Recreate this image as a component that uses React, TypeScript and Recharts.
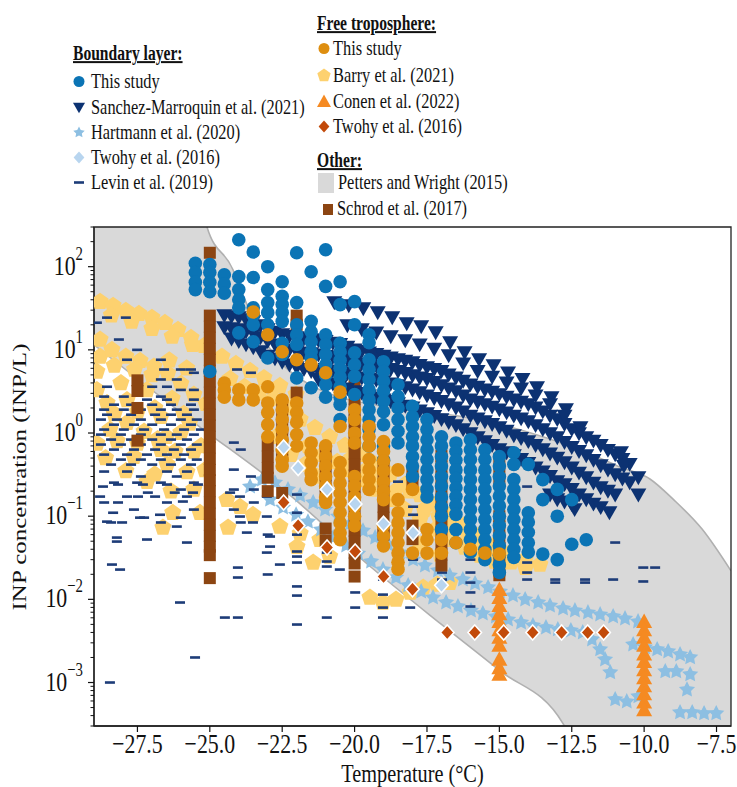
import { Area, ComposedChart, ReferenceArea, Scatter, XAxis, YAxis } from 'recharts'

const W = 737
const H = 787
const FONT = '"Liberation Serif", "Times New Roman", Times, serif'
// the original figure is squeezed horizontally, so text is drawn narrower than its height
const SQUEEZE = 0.78

const TEMP_DOMAIN = [-29, -7]
const CONC_DOMAIN = [0.0003, 300]
const TEMP_TICKS = [-27.5, -25, -22.5, -20, -17.5, -15, -12.5, -10, -7.5]
const CONC_TICKS = [0.001, 0.01, 0.1, 1, 10, 100]
const MINOR_STEPS = [2, 3, 4, 5, 6, 7, 8, 9]
const CONC_MINOR = [0.0001, ...CONC_TICKS]
  .flatMap((d) => MINOR_STEPS.map((m) => m * d))
  .filter((v) => v >= 0.0003 && v <= 300)

const BL_LABELS = ['This study', 'Sanchez-Marroquin et al. (2021)', 'Hartmann et al. (2020)', 'Twohy et al. (2016)', 'Levin et al. (2019)']
const FT_LABELS = ['This study', 'Barry et al. (2021)', 'Conen et al. (2022)', 'Twohy et al. (2016)']
const OTHER_LABELS = ['Petters and Wright (2015)', 'Schrod et al. (2017)']

// Petters and Wright (2015) envelope, [temperature, INP/L]
const PW_UPPER = [
  [-29, 3000], [-25.6, 3000], [-25.1, 302], [-24.2, 92], [-23.96, 56], [-23.16, 14], [-21.54, 3.8],
  [-18.77, 2.02], [-16.25, 1.57], [-13.94, 1.01], [-11.63, 0.52], [-10.83, 0.39], [-9.8, 0.28],
  [-9.0, 0.16], [-8.0, 0.07], [-7.0, 0.022],
]
const PW_LOWER = [
  [-29, 11.5], [-25.5, 1.3], [-22.47, 0.21], [-19.47, 0.025], [-17, 0.005], [-15, 0.0014],
  [-12.8, 0.00032], [-12.3, 0.00015],
]

// boundary layer, this study
const BL_THIS_STUDY = [
  { t: -25.5, v: [110, 85, 65, 53] },
  { t: -25, v: [106, 85, 65, 50, 5.5] },
  { t: -24.5, v: [80, 62, 48] },
  { t: -24, v: [211, 76, 53, 40, 32, 16] },
  { t: -23.5, v: [150, 74, 32, 26, 20, 12.5] },
  { t: -23, v: [100, 53, 37, 28, 20, 8] },
  { t: -22.5, v: [66, 44, 35, 28, 22, 12, 8.8] },
  { t: -22, v: [147, 37, 20, 15.2, 11.6, 4.6] },
  { t: -21.5, v: [87, 22, 16.5, 12.5, 9.5, 8, 3.5] },
  { t: -21, v: [160, 58, 15.2, 11.6, 8.8, 6.6, 5, 3.8, 2.7] },
  { t: -20.5, v: [66, 35, 12, 9.5, 7.5, 6, 4.7, 3.6, 2.7, 2.2, 1.45] },
  { t: -20, v: [38, 20, 9.2, 6.6, 4.8, 2.9] },
  { t: -19.5, v: [15.2, 12.2, 7.6, 5.8, 4.4, 3.3, 2.5, 1.9, 1.45, 1.1, 0.7] },
  { t: -19, v: [7.2, 5.5, 4.2, 3.2, 2.4, 1.8, 1.26, 0.7, 0.47] },
  { t: -18.5, v: [3.8, 2.75, 2, 1.45, 1.05, 0.76] },
  { t: -18, v: [2.1, 1.56, 1.2, 0.9, 0.7, 0.52, 0.4, 0.3] },
  { t: -17.5, v: [1.45, 1.1, 0.83, 0.63, 0.48, 0.36, 0.275, 0.21, 0.17] },
  { t: -17, v: [0.9, 0.7, 0.52, 0.4, 0.3, 0.23, 0.17, 0.13, 0.1, 0.069] },
  { t: -16.5, v: [0.76, 0.6, 0.47, 0.36, 0.283, 0.22, 0.172, 0.135, 0.105, 0.069, 0.048] },
  { t: -16, v: [0.83, 0.63, 0.48, 0.36, 0.275, 0.21, 0.158, 0.12, 0.091, 0.069, 0.052, 0.037] },
  { t: -15.5, v: [0.63, 0.48, 0.36, 0.275, 0.21, 0.158, 0.12, 0.091, 0.069, 0.052, 0.04, 0.03] },
  { t: -15, v: [0.52, 0.4, 0.3, 0.23, 0.175, 0.133, 0.1, 0.077, 0.058, 0.044, 0.034, 0.026, 0.021] },
  { t: -14.5, v: [0.58, 0.42, 0.275, 0.21, 0.158, 0.12, 0.091, 0.069, 0.052, 0.04, 0.032] },
  { t: -14, v: [0.42, 0.11, 0.085, 0.064, 0.048, 0.037] },
  { t: -13.5, v: [0.275, 0.158, 0.035] },
  { t: -13, v: [0.21, 0.1, 0.03] },
  { t: -12.5, v: [0.158, 0.046] },
  { t: -12, v: [0.052] },
]

// free troposphere, this study
const FT_THIS_STUDY = [
  { t: -24.5, v: [4.0, 3.3, 2.7] },
  { t: -24, v: [3.3, 2.5] },
  { t: -23.5, v: [28.5, 3.3, 2.5] },
  { t: -23, v: [15.2, 3.6, 2.3, 1.76, 1.26, 0.9] },
  { t: -22.5, v: [9.5, 2.5, 1.9, 1.45, 1.1, 0.83, 0.63, 0.48, 0.4] },
  { t: -22, v: [7.6, 2.3, 1.76, 1.35, 0.96, 0.7] },
  { t: -21.5, v: [6.6, 0.76, 0.58, 0.44, 0.33, 0.275] },
  { t: -21, v: [5.3, 0.7, 0.52, 0.4, 0.3, 0.23, 0.17, 0.146] },
  { t: -20.5, v: [3.1, 1.2, 0.44, 0.33, 0.25, 0.19, 0.146, 0.11, 0.083, 0.063, 0.052] },
  { t: -20, v: [1.9, 1.45, 1.0, 0.76, 0.3, 0.23, 0.17, 0.13, 0.1, 0.077] },
  { t: -19.5, v: [1.2, 0.9, 0.7, 0.48, 0.36, 0.275, 0.21] },
  { t: -19, v: [0.79, 0.6, 0.46, 0.35, 0.26, 0.2, 0.158, 0.077, 0.058, 0.044] },
  { t: -18.5, v: [0.36, 0.158, 0.11, 0.083, 0.063, 0.048, 0.036, 0.028, 0.023] },
  { t: -18, v: [0.21, 0.036] },
  { t: -17.5, v: [0.069, 0.052, 0.036] },
  { t: -17, v: [0.052, 0.036] },
  { t: -16.5, v: [0.048] },
  { t: -16, v: [0.04] },
  { t: -15.5, v: [0.036] },
  { t: -15, v: [0.035] },
]

// Schrod et al. (2017)
const SCHROD = [
  { t: -27.5, v: [4.3, 3.2, 2.0, 0.81] },
  { t: -25, v: [147, 25.8, 19, 14, 10.3, 7.6, 5.6, 4.15, 3.06, 2.25, 1.66, 1.23, 0.9, 0.67, 0.49, 0.36, 0.27, 0.2, 0.146, 0.107, 0.079, 0.058, 0.043, 0.034, 0.018] },
  { t: -23, v: [0.71, 0.52, 0.38, 0.29, 0.2] },
  { t: -22.5, v: [2.13, 1.57, 1.16, 0.86, 0.63, 0.47, 0.19] },
  { t: -22, v: [25.8, 20, 3.06] },
  { t: -21, v: [0.58, 0.43, 0.316, 0.233, 0.172, 0.071, 0.051] },
  { t: -20, v: [6.45, 4.77, 3.52, 2.59, 1.91, 1.41, 1.04, 0.77, 0.565, 0.417, 0.308, 0.227, 0.167, 0.123, 0.091, 0.067, 0.0495, 0.0365, 0.027, 0.0188] },
  { t: -19, v: [0.44, 0.325, 0.24, 0.177, 0.13, 0.096, 0.071, 0.06] },
  { t: -18, v: [0.316, 0.24, 0.077, 0.053] },
  { t: -17, v: [0.535, 0.395, 0.29, 0.215, 0.158, 0.117, 0.086, 0.0635, 0.047, 0.0345, 0.0255] },
  { t: -15, v: [0.49, 0.36, 0.27, 0.1, 0.075, 0.055, 0.0415, 0.0305, 0.0222, 0.0195] },
]

// Sanchez-Marroquin et al. (2021)
const SM_BAND = [
  { t: -24.5, v: [25.8, 18.5] },
  { t: -24.25, v: [25, 18, 13.5] },
  { t: -24, v: [24.4, 17.5, 12.6] },
  { t: -23.75, v: [23, 16.5, 11.5] },
  { t: -23.5, v: [21.8, 15.7, 10.6] },
  { t: -23.25, v: [19.5, 14, 9.5] },
  { t: -23, v: [17.5, 12.6, 8.4] },
  { t: -22.75, v: [16.3, 11.5, 7.8] },
  { t: -22.5, v: [15.2, 10.6, 7.1] },
  { t: -22.25, v: [14.6, 10, 6.6] },
  { t: -22, v: [14, 9.5, 6.1] },
  { t: -21.75, v: [13.6, 9.2, 5.8] },
  { t: -21.5, v: [13.3, 9, 5.5] },
  { t: -21.25, v: [13, 8.7, 5.6, 4.4] },
  { t: -21, v: [12.6, 8.4, 5.8, 4.15] },
  { t: -20.75, v: [12, 8.2, 5.6, 3.9] },
  { t: -20.5, v: [11.6, 8.1, 5.5, 3.7] },
  { t: -20.25, v: [10.8, 7.6, 5.2, 3.4] },
  { t: -20, v: [10, 7.1, 4.9, 3.15] },
  { t: -19.75, v: [9.6, 6.8, 4.6, 3] },
  { t: -19.5, v: [9.2, 6.5, 4.4, 2.8] },
  { t: -19.25, v: [8.8, 6.3, 4.3, 2.65] },
  { t: -19, v: [8.4, 6.1, 4.15, 2.5] },
  { t: -18.75, v: [8, 5.8, 3.9, 2.4] },
  { t: -18.5, v: [7.6, 5.5, 3.7, 2.25] },
  { t: -18.25, v: [7.3, 5.2, 3.5, 2.1] },
  { t: -18, v: [7, 4.9, 3.3, 2] },
  { t: -17.75, v: [6.5, 4.6, 3.05, 1.85] },
  { t: -17.5, v: [6.1, 4.4, 2.8, 1.71] },
  { t: -17.25, v: [5.8, 4.05, 2.6, 1.58] },
  { t: -17, v: [5.5, 3.7, 2.4, 1.45] },
  { t: -16.75, v: [5, 3.4, 2.2, 1.34] },
  { t: -16.5, v: [4.6, 3.15, 2, 1.23] },
  { t: -16.25, v: [4.2, 2.8, 1.8, 1.1] },
  { t: -16, v: [3.8, 2.5, 1.6, 0.98] },
  { t: -15.75, v: [3.55, 2.35, 1.48, 0.88] },
  { t: -15.5, v: [3.3, 2.2, 1.37, 0.79] },
  { t: -15.25, v: [3.1, 2.05, 1.27, 0.71] },
  { t: -15, v: [2.9, 1.9, 1.16, 0.63] },
  { t: -14.75, v: [2.7, 1.75, 1.05, 0.58] },
  { t: -14.5, v: [2.5, 1.6, 0.93, 0.535] },
  { t: -14.25, v: [2.35, 1.48, 0.86, 0.48] },
  { t: -14, v: [2.2, 1.37, 0.79, 0.43] },
  { t: -13.75, v: [2, 1.23, 0.71, 0.38] },
  { t: -13.5, v: [1.8, 1.1, 0.63, 0.34] },
  { t: -13.25, v: [1.6, 0.98, 0.56, 0.3, 0.18] },
  { t: -13, v: [1.45, 0.88, 0.5, 0.26, 0.158] },
  { t: -12.75, v: [1.27, 0.77, 0.44, 0.24, 0.148] },
  { t: -12.5, v: [1.1, 0.67, 0.38, 0.21, 0.138] },
  { t: -12.25, v: [0.98, 0.6, 0.33, 0.18] },
  { t: -12, v: [0.88, 0.535, 0.29, 0.158] },
  { t: -11.75, v: [0.8, 0.47, 0.25, 0.14] },
  { t: -11.5, v: [0.71, 0.405, 0.22, 0.127] },
  { t: -11.25, v: [0.62, 0.36, 0.2] },
  { t: -11, v: [0.55, 0.316, 0.18] },
  { t: -10.75, v: [0.48, 0.28] },
  { t: -10.5, v: [0.42, 0.253] },
  { t: -10.2, v: [0.29, 0.18] },
]
const SM_STREAKS = [
  [-20.7, 36.9], [-20.2, 34], [-19.7, 31.3], [-19.2, 28], [-18.7, 24.4], [-18.2, 20.6], [-17.7, 19],
  [-17.2, 16.1], [-16.7, 12.2], [-16.2, 9.25], [-15.7, 7.6], [-15.2, 6.45], [-14.7, 5.3], [-14.2, 4.4],
  [-13.7, 3.5], [-13.2, 2.66], [-12.7, 1.91], [-12.2, 1.16],
  [-20.25, 19.5], [-19.75, 17.5], [-19.25, 16], [-18.75, 14.4], [-18.25, 12.9], [-17.75, 11.5],
  [-17.25, 10.2], [-16.75, 8.5], [-16.25, 6.8], [-15.75, 5.5], [-15.25, 4.7], [-14.75, 4.0],
  [-14.25, 3.4], [-13.75, 2.8], [-13.25, 2.2], [-12.75, 1.6],
  [-12.4, 0.12], [-11.2, 0.11], [-10.8, 0.58], [-10.7, 0.4],
]

// Hartmann et al. (2020)
const HARTMANN = [
  [-23.61, 0.227], [-23.2, 0.275], [-22.75, 0.253], [-22.3, 0.209], [-21.88, 0.177], [-21.43, 0.146],
  [-21.02, 0.12], [-20.57, 0.099], [-20.16, 0.0815], [-19.71, 0.067], [-19.29, 0.0553], [-18.84, 0.0456],
  [-18.43, 0.0365], [-17.98, 0.03], [-17.57, 0.0255], [-17.12, 0.0222], [-16.71, 0.0193], [-16.26, 0.0173],
  [-15.84, 0.0155], [-15.39, 0.0139], [-14.98, 0.0124], [-14.53, 0.0111], [-14.11, 0.00995], [-13.66, 0.00916],
  [-13.25, 0.0084], [-12.8, 0.00775], [-12.39, 0.00733], [-11.94, 0.00693], [-11.52, 0.00656], [-11.07, 0.00621],
  [-10.66, 0.00587], [-10.21, 0.0054],
  [-22.92, 0.158], [-22.47, 0.127], [-22.02, 0.104], [-21.61, 0.086], [-21.16, 0.069], [-20.74, 0.0553],
  [-20.29, 0.0443], [-19.88, 0.0355], [-19.43, 0.0285], [-19.02, 0.0228], [-18.57, 0.0183], [-18.15, 0.0147],
  [-17.7, 0.0124], [-17.29, 0.0105], [-16.84, 0.00916], [-16.43, 0.0082], [-15.98, 0.00733], [-15.57, 0.00675],
  [-15.12, 0.0062], [-14.7, 0.00571], [-14.25, 0.00526], [-13.84, 0.00484], [-13.39, 0.00458], [-12.98, 0.00434],
  [-12.53, 0.00422], [-12.12, 0.00399],
  [-11.8, 0.00329], [-11.52, 0.0025], [-11.35, 0.00189], [-11.17, 0.00132],
  [-10.38, 0.00286], [-9.97, 0.00264], [-9.55, 0.0025], [-9.17, 0.00236], [-8.76, 0.00217], [-8.41, 0.002],
  [-11.0, 0.000625], [-10.6, 0.00059], [-10.2, 0.00068], [-9.27, 0.00136], [-8.89, 0.00136], [-8.41, 0.00125],
  [-8.52, 0.00082], [-8.76, 0.000437], [-8.34, 0.000437], [-7.93, 0.000425], [-7.51, 0.000425],
]

// Twohy et al. (2016)
const TWOHY_BL = [[-22.45, 0.67], [-21.95, 0.38], [-20.95, 0.21], [-19.98, 0.14], [-19.0, 0.081], [-17.98, 0.063], [-17.0, 0.0148]]
const TWOHY_FT = [
  [-22.45, 0.146], [-21.95, 0.077], [-20.95, 0.042], [-19.98, 0.0376], [-19.0, 0.0188], [-18.0, 0.0132],
  [-16.8, 0.004], [-15.85, 0.004], [-14.85, 0.004], [-13.85, 0.004], [-12.85, 0.004], [-11.95, 0.004], [-11.4, 0.004],
]

// Conen et al. (2022)
const CONEN = [
  { t: -15, v: [0.0131, 0.0105, 0.0084, 0.0067, 0.0054, 0.0043, 0.0035, 0.0028, 0.0019, 0.0015, 0.00125] },
  { t: -10, v: [0.0054, 0.0043, 0.0035, 0.0028, 0.0022, 0.00178, 0.00142, 0.00114, 0.00091, 0.00073, 0.00058, 0.00047] },
]

// Barry et al. (2021)
const BARRY = [
  [-28.79, 38], [-28.34, 34], [-27.9, 29.6], [-27.45, 27.2], [-27.0, 24.4], [-26.55, 21.2], [-26.1, 17.5],
  [-25.65, 14.0], [-25.2, 11.2], [-24.58, 8.3], [-24.1, 6.8], [-23.61, 5.6], [-23.13, 4.6], [-22.58, 3.7], [-22.02, 2.9],
  [-28.4, 26], [-27.7, 22], [-27.0, 18], [-26.3, 14.5], [-25.6, 11.5],
  [-28.79, 13.3], [-28.79, 8.3], [-28.38, 10], [-27.9, 8.3], [-27.41, 7.4], [-26.93, 6.3], [-26.45, 5.2],
  [-26.0, 3.9], [-25.55, 2.9], [-25.13, 2.25],
  [-24.3, 4.5], [-23.8, 3.6], [-23.3, 3.0], [-22.8, 2.6], [-22.3, 2.0],
  [-28.07, 4.0], [-28.55, 2.3], [-27.86, 2.5], [-27.17, 3.3], [-26.69, 1.57], [-27.86, 1.33], [-27.27, 1.04],
  [-27.62, 0.52], [-26.69, 0.63], [-26.0, 1.01], [-25.55, 0.6], [-26.48, 0.42], [-25.79, 0.34], [-27.17, 0.26],
  [-26.34, 0.2], [-25.55, 0.21], [-28.45, 1.1], [-25.17, 0.36],
  [-28.2, 0.8], [-27.5, 0.75], [-26.8, 0.85], [-26.2, 0.6], [-25.9, 1.7], [-28.6, 0.5], [-27.9, 0.35],
  [-26.9, 0.32], [-25.3, 0.7],
  [-28.9, 5.5], [-28.3, 6.5], [-27.6, 5.8], [-27.0, 5.0], [-26.4, 7.5], [-25.8, 6.0], [-28.9, 3.3],
  [-28.3, 1.7], [-27.5, 1.8], [-26.9, 2.0], [-26.3, 2.6], [-25.7, 1.3], [-28.9, 0.75], [-26.5, 0.9],
  [-26.28, 0.11], [-26.62, 0.073], [-25.34, 0.11], [-24.41, 0.158], [-23.96, 0.13], [-23.51, 0.104],
  [-24.37, 0.073], [-22.58, 0.075], [-21.99, 0.043], [-21.43, 0.0277], [-20.86, 0.0327], [-21.88, 0.062], [-21.2, 0.052],
  [-22.7, 0.9], [-22.2, 0.55], [-21.7, 0.42], [-21.3, 0.3],
  [-21.88, 1.45], [-21.37, 1.16], [-20.86, 0.9], [-20.33, 0.71], [-19.81, 0.55], [-19.29, 0.42], [-18.77, 0.316],
  [-18.26, 0.24], [-17.74, 0.18], [-17.22, 0.138], [-16.71, 0.104], [-16.19, 0.079], [-15.67, 0.06],
  [-15.15, 0.0456], [-14.63, 0.0365], [-14.11, 0.03], [-13.6, 0.0262],
  [-21.6, 0.7], [-21.1, 0.55], [-20.6, 0.45], [-20.1, 0.5], [-19.6, 0.36], [-19.1, 0.3], [-18.6, 0.2],
  [-18.1, 0.2], [-17.6, 0.12], [-17.1, 0.1], [-16.6, 0.075], [-16.1, 0.06], [-15.6, 0.045], [-15.1, 0.037],
  [-14.6, 0.028], [-14.1, 0.024],
  [-20.33, 0.36], [-19.81, 0.275], [-19.29, 0.21], [-18.77, 0.158], [-18.26, 0.12], [-17.74, 0.091],
  [-17.22, 0.069], [-16.71, 0.052], [-16.19, 0.042], [-15.67, 0.0336], [-15.15, 0.0285], [-17.74, 0.0456], [-17.05, 0.0345],
  [-19.47, 0.0105], [-19.02, 0.00916], [-18.57, 0.00995], [-18.08, 0.0121], [-17.63, 0.0139], [-17.15, 0.0151], [-16.71, 0.0159],
]

// Levin et al. (2019)
const LEVIN = [
  [-28.55, 24.4], [-27.9, 24.4], [-28.9, 21.2], [-28.14, 13.3], [-27.51, 10.0], [-27.86, 7.6], [-26.69, 7.6],
  [-26.58, 5.8], [-26.0, 5.8], [-25.65, 5.8], [-25.55, 5.3], [-26.69, 4.4], [-26.14, 4.4], [-28.55, 3.6],
  [-26.99, 3.6], [-26.48, 3.6], [-26.0, 3.3], [-25.55, 3.3], [-28.65, 2.74], [-27.97, 2.74], [-26.69, 2.74],
  [-27.17, 2.52], [-26.48, 2.52], [-25.55, 2.52], [-28.31, 2.19], [-27.72, 2.19], [-26.99, 2.19], [-26.34, 2.19],
  [-25.65, 2.19], [-28.65, 1.91], [-27.97, 1.91], [-27.38, 1.91], [-26.69, 1.91], [-26.14, 1.91], [-25.55, 1.91],
  [-28.55, 1.66], [-27.72, 1.66], [-26.89, 1.66], [-26.34, 1.66], [-25.79, 1.66], [-28.76, 1.45], [-28.21, 1.45],
  [-27.38, 1.45], [-26.69, 1.45], [-26.0, 1.45], [-25.45, 1.45], [-28.31, 1.26], [-27.62, 1.26], [-26.99, 1.26],
  [-26.34, 1.26], [-25.65, 1.26], [-28.65, 1.1], [-27.97, 1.1], [-27.27, 1.1], [-26.58, 1.1], [-25.89, 1.1],
  [-25.31, 1.1], [-28.76, 0.957], [-28.07, 0.957], [-27.38, 0.957], [-26.69, 0.957], [-26.14, 0.957],
  [-25.55, 0.957], [-28.41, 0.834], [-27.72, 0.834], [-26.99, 0.834], [-26.34, 0.834], [-25.79, 0.834],
  [-28.76, 0.726], [-28.07, 0.726], [-27.38, 0.726], [-26.69, 0.726], [-26.0, 0.726], [-25.45, 0.726],
  [-28.31, 0.632], [-27.62, 0.632], [-26.89, 0.632], [-26.24, 0.632], [-25.65, 0.632], [-28.65, 0.55],
  [-27.86, 0.55], [-27.17, 0.55], [-26.48, 0.55], [-25.89, 0.55], [-28.07, 0.479], [-27.38, 0.479],
  [-26.69, 0.479], [-26.0, 0.479], [-25.45, 0.479], [-28.41, 0.417], [-27.72, 0.417], [-26.99, 0.417],
  [-26.34, 0.417], [-25.65, 0.417], [-28.65, 0.344], [-27.86, 0.344], [-26.48, 0.344], [-25.79, 0.344],
  [-27.38, 0.3], [-26.14, 0.3], [-28.31, 0.253], [-27.51, 0.253], [-26.69, 0.253], [-25.55, 0.253],
  [-26.0, 0.209], [-27.86, 0.172], [-26.89, 0.172], [-25.79, 0.172], [-28.65, 0.146], [-26.48, 0.146],
  [-27.62, 0.12], [-25.55, 0.12], [-27.27, 0.096], [-26.0, 0.096], [-28.41, 0.084], [-26.69, 0.084],
  [-24.06, 5.8], [-23.58, 5.3], [-24.17, 0.767], [-23.93, 0.632], [-24.17, 0.363], [-23.58, 0.3],
  [-24.17, 0.209], [-23.48, 0.209], [-23.48, 0.146], [-24.17, 0.12], [-23.93, 0.084], [-23.03, 0.099],
  [-28.69, 0.227], [-28.17, 0.24], [-27.31, 0.24], [-26.48, 0.24], [-27.14, 0.192], [-26.21, 0.192],
  [-25.58, 0.192], [-28.79, 0.172], [-27.48, 0.172], [-28.17, 0.146], [-25.93, 0.15], [-25.41, 0.24],
  [-28.34, 0.11], [-26.72, 0.104], [-27.41, 0.096], [-28.55, 0.086], [-28.03, 0.084], [-26.14, 0.075],
  [-28.21, 0.0553], [-27.17, 0.0524], [-28.21, 0.0495], [-25.79, 0.0482], [-28.38, 0.0262], [-28.1, 0.0228],
  [-26.03, 0.00916], [-25.51, 0.002], [-28.45, 0.001], [-24.48, 0.00604], [-24.03, 0.00604], [-24.03, 0.0241],
  [-24.03, 0.0183], [-23.51, 0.084], [-23.0, 0.06], [-23.03, 0.0365], [-23.0, 0.0199], [-22.58, 0.0262],
  [-21.99, 0.182], [-21.99, 0.11], [-21.99, 0.06], [-21.99, 0.0376], [-21.99, 0.0327], [-21.99, 0.0277],
  [-21.99, 0.0143], [-21.99, 0.0111], [-21.99, 0.00498], [-20.96, 0.0365], [-20.96, 0.00604], [-20.51, 0.0228],
  [-19.98, 0.00796], [-19.02, 0.0173], [-19.02, 0.0114], [-19.02, 0.00796], [-19.02, 0.00604], [-18.08, 0.00796],
  [-24.3, 0.192], [-23.96, 0.172], [-23.03, 0.172], [-23.96, 0.099], [-23.72, 0.0635],
  [-20.96, 0.0285], [-20.96, 0.0248], [-19.98, 0.0121], [-17.98, 0.13], [-17.98, 0.104], [-17.98, 0.0635],
  [-16.98, 0.0277], [-16.98, 0.021], [-16.0, 0.021], [-16.0, 0.0121], [-22.92, 0.0569], [-22.92, 0.0431],
  [-17.98, 0.0365], [-17.98, 0.03], [-16.98, 0.0524], [-16.98, 0.0327], [-16.98, 0.0173], [-16.0, 0.0431],
  [-16.0, 0.03], [-16.0, 0.0159], [-16.0, 0.0082], [-14.04, 0.0277], [-14.04, 0.021], [-14.04, 0.0173],
  [-13.07, 0.0173], [-13.07, 0.0159], [-12.04, 0.0173], [-12.04, 0.0159], [-11.07, 0.0173], [-11.0, 0.0482],
  [-10.03, 0.0241], [-9.62, 0.0241], [-10.03, 0.0164], [-14.04, 0.227], [-18.5, 0.26], [-17.0, 0.158],
]

const COLORS = {
  blBlue: '#0b74b5',
  sm: '#0c3272',
  hartmann: '#8dbfe2',
  twohyBl: '#b8d5ef',
  levin: '#1d3c78',
  ftOrange: '#de8e10',
  barry: '#fdd16f',
  conen: '#f58a22',
  twohyFt: '#c24a0a',
  pw: '#d9d9d9',
  pwLine: '#b0b0b0',
  schrod: '#8c4512',
}

const pairs = (rows: number[][]) => rows.map(([t, v]) => ({ t, v }))
const cols = (rows: { t: number; v: number[] }[]) => rows.flatMap((c) => c.v.map((v) => ({ t: c.t, v })))

function ring(cx: number, cy: number, radii: number[], n: number) {
  const pts: string[] = []
  for (let i = 0; i < n; i++) {
    const a = -Math.PI / 2 + (i * 2 * Math.PI) / n
    const r = radii[i % radii.length]
    pts.push(`${(cx + r * Math.cos(a)).toFixed(2)},${(cy + r * Math.sin(a)).toFixed(2)}`)
  }
  return pts.join(' ')
}

const dot = (fill: string, r: number) => (p: any) => <circle cx={p.cx} cy={p.cy} r={r} fill={fill} />
const square = (fill: string, s: number) => (p: any) => (
  <rect x={p.cx - s / 2} y={p.cy - s / 2} width={s} height={s} fill={fill} />
)
const dash = (fill: string) => (p: any) => <rect x={p.cx - 5} y={p.cy - 1.3} width={10} height={2.6} fill={fill} />
const triDown = (fill: string, s: number) => (p: any) => (
  <polygon points={`${p.cx - s / 2},${p.cy - s * 0.4} ${p.cx + s / 2},${p.cy - s * 0.4} ${p.cx},${p.cy + s * 0.47}`} fill={fill} />
)
const triUp = (fill: string, s: number) => (p: any) => (
  <polygon points={`${p.cx - s / 2},${p.cy + s * 0.4} ${p.cx + s / 2},${p.cy + s * 0.4} ${p.cx},${p.cy - s * 0.5}`} fill={fill} />
)
const pentagon = (fill: string, r: number) => (p: any) => <polygon points={ring(p.cx, p.cy, [r], 5)} fill={fill} />
const star = (fill: string, r: number) => (p: any) => <polygon points={ring(p.cx, p.cy, [r, r * 0.5], 10)} fill={fill} />
const diamond = (fill: string, r: number, edge: boolean) => (p: any) => (
  <polygon
    points={`${p.cx},${p.cy - r} ${p.cx + r * 0.9},${p.cy} ${p.cx},${p.cy + r} ${p.cx - r * 0.9},${p.cy}`}
    fill={fill}
    stroke={edge ? '#fff' : 'none'}
    strokeWidth={1.6}
  />
)

function Txt({ x, y, size = 21, bold = false, underline = false, anchor = 'start', children }: any) {
  return (
    <g transform={`translate(${x},${y}) scale(${SQUEEZE},1)`}>
      <text
        textAnchor={anchor}
        fontFamily={FONT}
        fontSize={size}
        fontWeight={bold ? 700 : 400}
        textDecoration={underline ? 'underline' : undefined}
        fill="#111"
      >
        {children}
      </text>
    </g>
  )
}

function TempTick({ x, y, payload }: any) {
  const label = payload.value.toFixed(1).replace('-', '\u2212')
  return (
    <g>
      <line x1={x} x2={x} y1={y} y2={y + 6} stroke="#111" strokeWidth={1.2} />
      <Txt x={x} y={y + 27} size={28} anchor="middle">{label}</Txt>
    </g>
  )
}

function ConcTick({ x, y, payload }: any) {
  const v = payload.value
  if (!CONC_TICKS.includes(v)) {
    return <line x1={x - 3.5} x2={x} y1={y} y2={y} stroke="#111" strokeWidth={1} />
  }
  const exp = Math.round(Math.log10(v))
  return (
    <g>
      <line x1={x - 6} x2={x} y1={y} y2={y} stroke="#111" strokeWidth={1.2} />
      <g transform={`translate(${x - 11},${y + 8}) scale(${SQUEEZE},1)`}>
        <text textAnchor="end" fontFamily={FONT} fontSize={28} fill="#111">
          10
          <tspan fontSize={19} dy={-15}>{exp < 0 ? `\u2212${-exp}` : exp}</tspan>
        </text>
      </g>
    </g>
  )
}

function LegendOverlay() {
  const blIcons = [
    dot(COLORS.blBlue, 5.5),
    triDown(COLORS.sm, 12),
    star(COLORS.hartmann, 6),
    diamond(COLORS.twohyBl, 6, false),
    dash(COLORS.levin),
  ]
  const ftIcons = [
    dot(COLORS.ftOrange, 5.5),
    pentagon(COLORS.barry, 7),
    triUp(COLORS.conen, 14),
    diamond(COLORS.twohyFt, 6, false),
  ]
  const blBase = [88, 114, 139, 164, 189]
  const ftBase = [55, 82, 108, 133]
  return (
    <svg width={W} height={H} style={{ position: 'absolute', left: 0, top: 0, pointerEvents: 'none' }}>
      <Txt x={73} y={60} size={20} bold underline>Boundary layer:</Txt>
      {BL_LABELS.map((label, i) => (
        <g key={label}>
          {blIcons[i]({ cx: 79, cy: blBase[i] - 6.5 })}
          <Txt x={91} y={blBase[i]}>{label}</Txt>
        </g>
      ))}
      <Txt x={317} y={30} size={20} bold underline>Free troposphere:</Txt>
      {FT_LABELS.map((label, i) => (
        <g key={label + i}>
          {ftIcons[i]({ cx: 324, cy: ftBase[i] - 6.5 })}
          <Txt x={333} y={ftBase[i]}>{label}</Txt>
        </g>
      ))}
      <Txt x={317} y={167} size={20} bold underline>Other:</Txt>
      <rect x={318} y={173} width={16} height={20} fill={COLORS.pw} />
      <Txt x={338} y={189}>{OTHER_LABELS[0]}</Txt>
      <rect x={323} y={204} width={10} height={11} fill={COLORS.schrod} />
      <Txt x={337} y={215}>{OTHER_LABELS[1]}</Txt>

      <Txt x={412.5} y={782} size={26} anchor="middle">Temperature (°C)</Txt>
      <g transform={`translate(26,477) scale(${SQUEEZE},1) rotate(-90)`}>
        <text textAnchor="middle" fontFamily={FONT} fontSize={25} fill="#111">INP concentration (INP/L)</text>
      </g>
    </svg>
  )
}

export default function App() {
  return (
    <div style={{ position: 'absolute', left: 0, top: 0, width: W, height: H, background: '#fff', fontFamily: FONT }}>
      <ComposedChart width={W} height={H} margin={{ top: 227, right: 6, bottom: 0, left: 0 }}>
        <Area
          data={pairs(PW_UPPER)}
          dataKey="v"
          type="monotone"
          baseValue={0.0001}
          fill={COLORS.pw}
          fillOpacity={1}
          stroke={COLORS.pwLine}
          strokeWidth={1.6}
          dot={false}
          activeDot={false}
          isAnimationActive={false}
        />
        <Area
          data={pairs(PW_LOWER)}
          dataKey="v"
          type="monotone"
          baseValue={0.0001}
          fill="#fff"
          fillOpacity={1}
          stroke={COLORS.pwLine}
          strokeWidth={1.6}
          dot={false}
          activeDot={false}
          isAnimationActive={false}
        />
        <Scatter data={pairs(BARRY)} dataKey="v" shape={pentagon(COLORS.barry, 9)} isAnimationActive={false} />
        <Scatter data={pairs(HARTMANN)} dataKey="v" shape={star(COLORS.hartmann, 8.5)} isAnimationActive={false} />
        <Scatter data={pairs(LEVIN)} dataKey="v" shape={dash(COLORS.levin)} isAnimationActive={false} />
        <Scatter data={cols(SCHROD)} dataKey="v" shape={square(COLORS.schrod, 12)} isAnimationActive={false} />
        <Scatter data={[...cols(SM_BAND), ...pairs(SM_STREAKS)]} dataKey="v" shape={triDown(COLORS.sm, 16)} isAnimationActive={false} />
        <Scatter data={cols(BL_THIS_STUDY)} dataKey="v" shape={dot(COLORS.blBlue, 6.8)} isAnimationActive={false} />
        <Scatter data={cols(FT_THIS_STUDY)} dataKey="v" shape={dot(COLORS.ftOrange, 6.8)} isAnimationActive={false} />
        <Scatter data={cols(CONEN)} dataKey="v" shape={triUp(COLORS.conen, 16)} isAnimationActive={false} />
        <Scatter data={pairs(TWOHY_BL)} dataKey="v" shape={diamond(COLORS.twohyBl, 7.5, true)} isAnimationActive={false} />
        <Scatter data={pairs(TWOHY_FT)} dataKey="v" shape={diamond(COLORS.twohyFt, 7.5, true)} isAnimationActive={false} />
        <ReferenceArea
          x1={TEMP_DOMAIN[0]}
          x2={TEMP_DOMAIN[1]}
          y1={CONC_DOMAIN[0]}
          y2={CONC_DOMAIN[1]}
          fill="none"
          stroke="#222"
          strokeWidth={1.3}
        />
        <XAxis
          dataKey="t"
          type="number"
          domain={TEMP_DOMAIN}
          allowDataOverflow
          ticks={TEMP_TICKS}
          interval={0}
          tickSize={0}
          tickMargin={0}
          tickLine={false}
          tick={<TempTick />}
          height={61}
          axisLine={{ stroke: '#222', strokeWidth: 1.3 }}
        />
        <YAxis
          dataKey="v"
          type="number"
          scale="log"
          domain={CONC_DOMAIN}
          allowDataOverflow
          ticks={[...CONC_TICKS, ...CONC_MINOR]}
          interval={0}
          tickSize={0}
          tickMargin={0}
          tickLine={false}
          tick={<ConcTick />}
          width={94}
          axisLine={{ stroke: '#222', strokeWidth: 1.3 }}
        />
      </ComposedChart>
      <LegendOverlay />
    </div>
  )
}
